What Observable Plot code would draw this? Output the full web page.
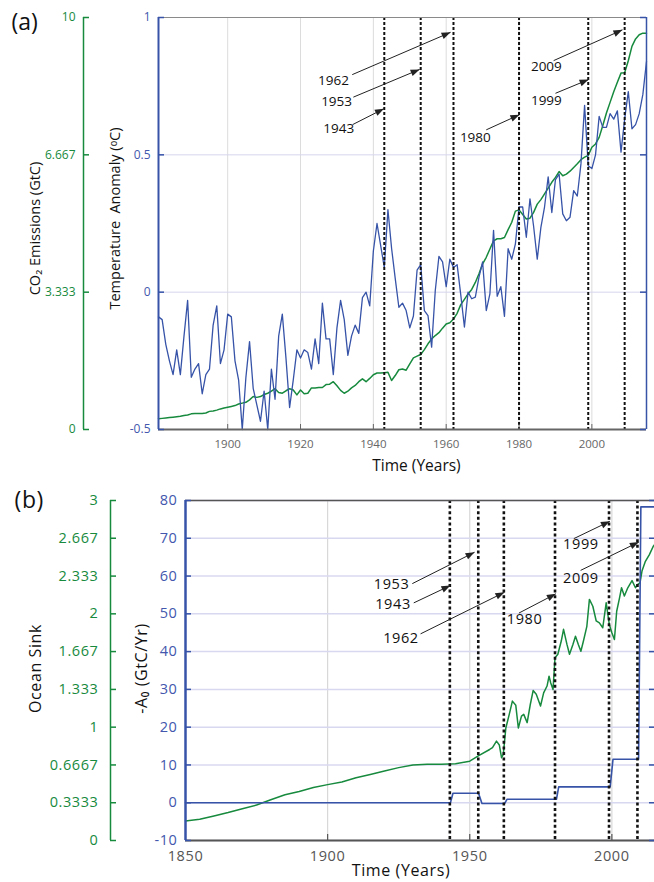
<!DOCTYPE html>
<html><head><meta charset="utf-8">
<script src="https://cdn.jsdelivr.net/npm/d3@7"></script>
<script src="https://cdn.jsdelivr.net/npm/@observablehq/plot@0.6"></script>
<style>
html,body{margin:0;padding:0;background:#fff;overflow:hidden;}
#chart{width:654px;height:882px;position:relative;overflow:hidden;font-family:"Open Sans",sans-serif;}
#chart svg{display:block;}
</style></head><body><div id="chart"></div>
<script>
// ---------------- DATA ----------------
// Panel (a): annual temperature anomaly (°C) and CO2 emissions (GtC), 1881-2015
const tempYears = d3.range(1881, 2016);
const tempValues = [
 -0.09,-0.10,-0.19,-0.25,-0.30,-0.21,-0.30,-0.16,-0.03,-0.31, // 1881-1890
 -0.28,-0.26,-0.37,-0.30,-0.28,-0.12,-0.05,-0.26,-0.21,-0.08, // 1891-1900
 -0.09,-0.25,-0.32,-0.50,-0.31,-0.18,-0.35,-0.41,-0.47,-0.36, // 1901-1910
 -0.50,-0.28,-0.39,-0.16,-0.08,-0.24,-0.42,-0.32,-0.21,-0.24, // 1911-1920
 -0.21,-0.22,-0.28,-0.17,-0.26,-0.04,-0.17,-0.17,-0.30,-0.13, // 1921-1930
 -0.03,-0.10,-0.23,-0.16,-0.12,-0.15,-0.02,0.00,-0.05,0.15,   // 1931-1940
 0.25,0.17,0.09,0.30,0.16,0.05,-0.055,-0.04,-0.067,-0.13,     // 1941-1950
 -0.087,0.08,0.10,-0.067,-0.085,-0.20,0.006,0.13,0.11,0.02,   // 1951-1960
 0.12,0.09,0.10,-0.01,-0.127,0.00,-0.024,-0.018,0.055,0.11,   // 1961-1970
 -0.067,-0.006,0.225,-0.015,0.02,-0.088,0.158,0.12,0.176,0.31,// 1971-1980
 0.31,0.20,0.34,0.24,0.12,0.236,0.31,0.42,0.29,0.41,          // 1981-1990
 0.43,0.285,0.26,0.273,0.37,0.35,0.467,0.68,0.46,0.45,        // 1991-2000
 0.50,0.64,0.60,0.60,0.65,0.63,0.66,0.51,0.63,0.73,           // 2001-2010
 0.595,0.61,0.65,0.72,0.84                                    // 2011-2015
];
const co2Values = [
 0.26,0.27,0.28,0.29,0.30,0.31,0.32,0.34,0.35,0.38,  // 1881-1890
 0.39,0.39,0.39,0.40,0.44,0.45,0.47,0.50,0.52,0.54,  // 1891-1900
 0.56,0.58,0.62,0.64,0.66,0.72,0.80,0.78,0.80,0.85,  // 1901-1910
 0.88,0.93,0.99,0.90,0.88,0.94,0.99,0.96,0.84,0.96,  // 1911-1920
 0.87,0.88,1.01,1.01,1.02,1.02,1.09,1.10,1.16,1.06,  // 1921-1930
 0.95,0.88,0.93,1.01,1.07,1.16,1.23,1.16,1.24,1.33,  // 1931-1940
 1.37,1.37,1.38,1.39,1.19,1.31,1.45,1.47,1.44,1.59,  // 1941-1950
 1.74,1.78,1.82,1.94,2.08,2.20,2.28,2.35,2.46,2.56,  // 1951-1960
 2.59,2.68,2.82,3.03,3.16,3.29,3.40,3.57,3.78,4.02,  // 1961-1970
 4.18,4.38,4.58,4.63,4.63,4.66,4.85,5.03,5.30,5.33,  // 1971-1980
 5.22,5.11,5.13,5.27,5.47,5.58,5.72,5.86,6.00,6.12,  // 1981-1990
 6.26,6.16,6.20,6.27,6.36,6.45,6.55,6.61,6.65,6.85,  // 1991-2000
 6.93,7.09,7.38,7.68,7.94,8.20,8.43,8.65,8.66,8.95,  // 2001-2010
 9.30,9.48,9.58,9.62,9.62                            // 2011-2015
];
const tempTicks = [-0.5, 0, 0.5, 1];
const co2Ticks = [0, 3.333, 6.667, 10];
const xTicksA = [1900, 1920, 1940, 1960, 1980, 2000];

// event years (dashed lines) and annotations
const eventYears = [1943, 1953, 1962, 1980, 1999, 2009];
// panel (a) annotation geometry in data units (year, °C)
const annALabelX = [1930.5, 1929.9, 1929.05, 1968.0, 1987.5, 1987.5];
const annALabelY = [0.595, 0.692, 0.771, 0.564, 0.698, 0.822];
const annATailX  = [1934.3, 1934.5, 1934.2, 1971.0, 1990.0, 1989.5];
const annATailY  = [0.610, 0.710, 0.792, 0.591, 0.724, 0.843];
const annATipX   = [1942.9, 1952.7, 1961.2, 1980.1, 1999.1, 2008.4];
const annATipY   = [0.668, 0.811, 0.946, 0.646, 0.774, 0.955];

// Panel (b): -A0 step series (GtC/Yr) and ocean sink
const a0Years  = [1850, 1943.2, 1944.1, 1953.1, 1954.3, 1962.3, 1963.1, 1980.5, 1981.3, 1999.4, 2000.4, 2009.4, 2010.2, 2015];
const a0Values = [0, 0, 2.5, 2.5, -0.2, -0.2, 0.9, 0.9, 4.2, 4.2, 11.5, 11.5, 78.3, 78.3];
const sinkYears = [1850,1855,1860,1865,1870,1875,1880,1885,1890,1895,1900,1905,1910,1915,1920,1925,1930,1935,1940,1945,
  1950,1953,1957,1958,1959.4,1960.4,1961.2,1961.8,1962.7,1963.9,1965,1966.2,1967.1,1968.2,1969,1970.2,1971.3,1972.3,1973.4,1974.9,
  1976,1977.2,1977.9,1978.5,1979.3,1980,1981,1982.2,1983,1984.2,1985.1,1986.3,1987.2,1988.2,1989.1,1990,1991.2,1992.1,1993.3,1994.5,
  1995.6,1996.8,1998,1999.1,2000,2000.9,2001.7,2002.7,2003.4,2004.4,2005.6,2007.1,2008.3,2009.1,2009.9,2010.6,2011.8,2013.2,2014.6,2015];
const sinkValues = [0.173,0.187,0.217,0.247,0.280,0.313,0.360,0.403,0.433,0.467,0.493,0.517,0.553,0.583,0.613,0.643,0.667,0.673,0.673,0.677,
  0.700,0.747,0.803,0.820,0.877,0.843,0.730,0.760,0.993,1.113,1.230,1.193,0.993,1.097,1.113,1.040,1.200,1.323,1.290,1.187,
  1.303,1.363,1.450,1.390,1.333,1.613,1.643,1.760,1.863,1.730,1.643,1.730,1.803,1.730,1.670,1.760,1.890,2.127,2.067,1.937,
  1.920,1.877,2.097,1.907,1.833,1.773,2.023,2.140,2.230,2.157,2.230,2.293,2.230,2.260,2.273,2.377,2.463,2.523,2.597,2.610];
const a0Ticks = [-10, 0, 10, 20, 30, 40, 50, 60, 70, 80];
const sinkTicks = [0, 0.3333, 0.6667, 1, 1.333, 1.667, 2, 2.333, 2.667, 3];
const xTicksB = [1850, 1900, 1950, 2000];
// panel (b) annotation geometry in data units (year, GtC/Yr)
const annBLabelX = [1923.0, 1922.5, 1925.8, 1969.3, 1989.1, 1989.1];
const annBLabelY = [52.5, 57.8, 43.6, 48.5, 68.3, 59.5];
const annBTailX  = [1930.3, 1929.8, 1932.7, 1967.3, 1986.6, 1989.0];
const annBTailY  = [52.9, 58.0, 44.7, 50.2, 69.9, 61.5];
const annBTipX   = [1943.2, 1951.7, 1962.2, 1980.3, 1999.3, 2009.5];
const annBTipY   = [57.5, 66.3, 55.7, 55.3, 74.5, 69.0];

// ---------------- STYLE ----------------
const W = 654;
const blue = "#3653a8", blueText = "#4257ad", green = "#178a3e";
const font = "'Open Sans', sans-serif";

function filledArrow(color, context) {
  const doc = (context && context.document) || document;
  const ns = "http://www.w3.org/2000/svg";
  const m = doc.createElementNS(ns, "marker");
  m.setAttribute("viewBox", "-10 -5 10 10");
  m.setAttribute("markerWidth", 9);
  m.setAttribute("markerHeight", 9);
  m.setAttribute("markerUnits", "userSpaceOnUse");
  m.setAttribute("orient", "auto");
  m.setAttribute("overflow", "visible");
  const p = doc.createElementNS(ns, "path");
  p.setAttribute("d", "M-10,-3.8L0,0L-10,3.8Z");
  p.setAttribute("fill", color);
  p.setAttribute("stroke", "none");
  m.appendChild(p);
  return m;
}

// ---------------- PANEL (a) ----------------
const aH = 478, aTop = 17, aBottom = 49, aLeft = 158, aRight = 8;
const aFrameW = W - aLeft - aRight, aFrameH = aH - aTop - aBottom;
const aDomain = [1881, 2015];
const co2ToY = d3.scaleLinear([0, 10], [-0.5, 1]);
const tempData = tempYears.map((year, i) => ({year, value: tempValues[i]}));
const co2Data = tempYears.map((year, i) => ({year, value: co2ToY(co2Values[i])}));
const annA = eventYears.map((e, i) => ({label: String(e), lx: annALabelX[i], ly: annALabelY[i], tx: annATailX[i], ty: annATailY[i], hx: annATipX[i], hy: annATipY[i]}));

const plotA = Plot.plot({
  width: W, height: aH,
  marginTop: aTop, marginBottom: aBottom, marginLeft: aLeft, marginRight: aRight,
  style: {fontFamily: font, background: "white", overflow: "visible"},
  x: {domain: aDomain, label: null},
  y: {domain: [-0.5, 1], label: null},
  marks: [
    Plot.ruleX(xTicksA, {stroke: "#dcdcdc", strokeWidth: 1}),
    Plot.ruleY([0, 0.5], {stroke: "#d5d5ee", strokeWidth: 1}),
    Plot.line(co2Data, {x: "year", y: "value", stroke: green, strokeWidth: 1.5}),
    Plot.line(tempData, {x: "year", y: "value", stroke: blue, strokeWidth: 1.3}),
    Plot.ruleX(eventYears, {stroke: "#111", strokeWidth: 2, strokeDasharray: "3,2"}),
    // frame
    Plot.ruleY([1], {stroke: "#8a8a8a", strokeWidth: 1}),
    Plot.ruleY([-0.5], {stroke: "#666", strokeWidth: 2}),
    Plot.ruleX([aDomain[0]], {stroke: blue, strokeWidth: 2}),
    Plot.ruleX([aDomain[1]], {stroke: blue, strokeWidth: 1.5}),
    Plot.ruleY(tempTicks, {insetRight: aFrameW - 6, stroke: blue, strokeWidth: 1.5}),
    Plot.ruleY(tempTicks, {insetLeft: aFrameW - 6, stroke: blue, strokeWidth: 1.5}),
    Plot.ruleX(xTicksA, {insetTop: aFrameH - 5, stroke: "#666"}),
    Plot.axisX({ticks: xTicksA, tickSize: 0, tickPadding: 10, tickFormat: d => String(d), fill: "#666", fontSize: 11.5, label: null}),
    Plot.axisY({ticks: tempTicks, tickSize: 0, tickPadding: 8, tickFormat: d => String(d), fill: blueText, fontSize: 12, label: null}),
    // secondary CO2 axis
    Plot.ruleX([aDomain[0]], {dx: -75, stroke: green, strokeWidth: 1.5}),
    Plot.ruleY(co2Ticks.map(d => co2ToY(d)), {insetRight: aFrameW - 6, dx: -75, stroke: green, strokeWidth: 1.5}),
    Plot.text(co2Ticks, {x: aDomain[0], y: d => co2ToY(d), text: d => String(d), textAnchor: "end", dx: -83, fill: green, fontSize: 12}),
    // annotations
    Plot.link(annA, {x1: "tx", y1: "ty", x2: "hx", y2: "hy", stroke: "#222", strokeWidth: 1, markerEnd: filledArrow}),
    Plot.text(annA, {x: "lx", y: "ly", text: "label", fill: "#111", fontSize: 13.5}),
    // titles
    Plot.text(["(a)"], {text: d => d, frameAnchor: "top-left", textAnchor: "start", lineAnchor: "middle", dx: -147, dy: 5, fontSize: 23, fill: "#111"}),
    Plot.text(["CO\u2082 Emissions (GtC)"], {text: d => d, frameAnchor: "left", textAnchor: "middle", lineAnchor: "middle", rotate: -90, dx: -123, dy: 5, fontSize: 14.5, fill: "#111"}),
    Plot.text(["Temperature\u2002Anomaly (\u1d52C)"], {text: d => d, frameAnchor: "left", textAnchor: "middle", lineAnchor: "middle", rotate: -90, dx: -43, dy: -5, fontSize: 14.5, fill: "#111"}),
    Plot.text(["Time (Years)"], {text: d => d, frameAnchor: "bottom", textAnchor: "middle", lineAnchor: "middle", dx: 14, dy: 37, fontSize: 15.5, fill: "#111"})
  ]
});

// ---------------- PANEL (b) ----------------
const bH = 404, bTop = 22, bBottom = 42, bLeft = 185, bRight = 0;
const bFrameW = W - bLeft - bRight, bFrameH = bH - bTop - bBottom;
const bDomain = [1850, 2015];
const sinkToY = d3.scaleLinear([0, 3], [-10, 80]);
const a0Data = a0Years.map((year, i) => ({year, value: a0Values[i]}));
const sinkData = sinkYears.map((year, i) => ({year, value: sinkToY(sinkValues[i])}));
const annB = eventYears.map((e, i) => ({label: String(e), lx: annBLabelX[i], ly: annBLabelY[i], tx: annBTailX[i], ty: annBTailY[i], hx: annBTipX[i], hy: annBTipY[i]}));

const plotB = Plot.plot({
  width: W, height: bH,
  marginTop: bTop, marginBottom: bBottom, marginLeft: bLeft, marginRight: bRight,
  style: {fontFamily: font, background: "white", overflow: "visible", letterSpacing: "0.6px"},
  x: {domain: bDomain, label: null},
  y: {domain: [-10, 80], label: null},
  marks: [
    Plot.ruleX([1900, 1950, 2000], {stroke: "#d8d8d8", strokeWidth: 1.2}),
    Plot.ruleY(a0Ticks, {stroke: "#d8d8f0", strokeWidth: 1.5}),
    Plot.line(sinkData, {x: "year", y: "value", stroke: green, strokeWidth: 1.5}),
    Plot.line(a0Data, {x: "year", y: "value", stroke: blue, strokeWidth: 1.6}),
    Plot.ruleX(eventYears, {stroke: "#111", strokeWidth: 2.6, strokeDasharray: "3,2.6"}),
    // frame
    Plot.ruleY([80], {stroke: "#555", strokeWidth: 1.5}),
    Plot.ruleY([-10], {stroke: "#555", strokeWidth: 2}),
    Plot.ruleX([bDomain[0]], {stroke: blue, strokeWidth: 2.5}),
    Plot.ruleY(a0Ticks, {insetRight: bFrameW - 6, stroke: blue, strokeWidth: 1.5}),
    Plot.ruleY(a0Ticks, {insetLeft: bFrameW - 5, stroke: blue, strokeWidth: 1.5}),
    Plot.ruleX([1900, 1950, 2000], {insetTop: bFrameH - 6, stroke: "#555", strokeWidth: 1.2}),
    Plot.axisX({ticks: xTicksB, tickSize: 0, tickPadding: 10, tickFormat: d => String(d), fill: "#555", fontSize: 14.5, label: null}),
    Plot.axisY({ticks: a0Ticks, tickSize: 0, tickPadding: 8, tickFormat: d => String(d), fill: blueText, fontSize: 14.5, label: null}),
    // secondary ocean sink axis
    Plot.ruleX([bDomain[0]], {dx: -75, stroke: green, strokeWidth: 1.5}),
    Plot.ruleY(sinkTicks.map(d => sinkToY(d)), {insetRight: bFrameW - 6, dx: -75, stroke: green, strokeWidth: 1.5}),
    Plot.text(sinkTicks, {x: bDomain[0], y: d => sinkToY(d), text: d => String(d), textAnchor: "end", dx: -87, fill: green, fontSize: 14.5}),
    // annotations
    Plot.link(annB, {x1: "tx", y1: "ty", x2: "hx", y2: "hy", stroke: "#222", strokeWidth: 1, markerEnd: filledArrow}),
    Plot.text(annB, {x: "lx", y: "ly", text: "label", fill: "#111", fontSize: 14.5}),
    // titles
    Plot.text(["(b)"], {text: d => d, frameAnchor: "top-left", textAnchor: "start", lineAnchor: "middle", dx: -171, dy: 0, fontSize: 23, fill: "#111"}),
    Plot.text(["Ocean Sink"], {text: d => d, frameAnchor: "left", textAnchor: "middle", lineAnchor: "middle", rotate: -90, dx: -150, dy: -2, fontSize: 16, fill: "#111"}),
    Plot.text(["-A\u2080 (GtC/Yr)"], {text: d => d, frameAnchor: "left", textAnchor: "middle", lineAnchor: "middle", rotate: -90, dx: -44, dy: -2, fontSize: 16, fill: "#111"}),
    Plot.text(["Time (Years)"], {text: d => d, frameAnchor: "bottom", textAnchor: "middle", lineAnchor: "middle", dx: -19, dy: 30, fontSize: 16, fill: "#111"})
  ]
});

const chart = document.getElementById("chart");
chart.appendChild(plotA);
chart.appendChild(plotB);
</script>
</body></html>
